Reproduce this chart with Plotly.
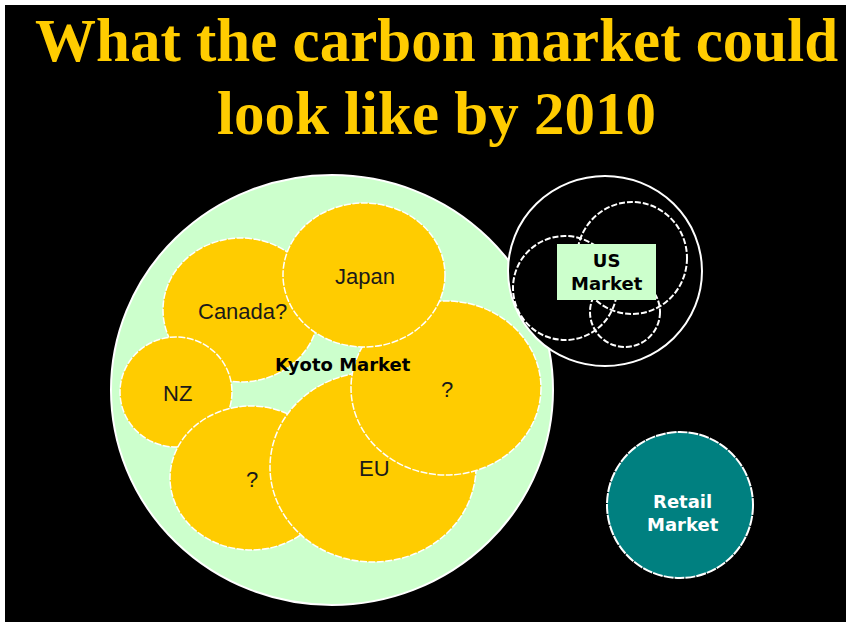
import plotly.graph_objects as go

# ---- data ----
title_lines = ["What the carbon market could", "look like by 2010"]

kyoto_names = ["Kyoto Market"]
kyoto_cx = [332]
kyoto_cy = [390]
kyoto_rx = [221]
kyoto_ry = [215]

# member markets, in drawing order
member_names = ["Canada?", "NZ", "?", "EU", "?", "Japan"]
member_cx = [241, 176, 251, 373, 446, 364]
member_cy = [310, 392, 478, 467, 388, 275]
member_rx = [78, 56, 81, 103, 95, 81]
member_ry = [72, 55, 72, 95, 87, 72]

us_cx = [605, 632, 565, 625]
us_cy = [271, 258, 288, 312]
us_rx = [97, 55, 52, 35]
us_ry = [95, 56, 52, 35]
us_label = "US<br>Market"
us_box = [557, 656, 244, 300]  # x0, x1, y0, y1

retail_cx = [680]
retail_cy = [505]
retail_r = [73]
retail_label = "Retail<br>Market"

# ---- styles ----
YELLOW = "#FFCC00"
MINT = "#CCFFCC"
TEAL = "#008080"

fig = go.Figure()
fig.add_trace(go.Scatter(x=[5, 846], y=[5, 622], mode="markers",
                         marker=dict(opacity=0), hoverinfo="skip", showlegend=False))

shapes = []
# Kyoto outer
for cx, cy, rx, ry in zip(kyoto_cx, kyoto_cy, kyoto_rx, kyoto_ry):
    shapes.append(dict(type="circle", xref="x", yref="y",
                       x0=cx - rx, x1=cx + rx, y0=cy - ry, y1=cy + ry,
                       fillcolor=MINT, line=dict(color="white", width=2)))
for cx, cy, rx, ry in zip(member_cx, member_cy, member_rx, member_ry):
    shapes.append(dict(type="circle", xref="x", yref="y",
                       x0=cx - rx, x1=cx + rx, y0=cy - ry, y1=cy + ry,
                       fillcolor=YELLOW, line=dict(color="white", width=1.5, dash="7px,1.5px")))
for i, (cx, cy, rx, ry) in enumerate(zip(us_cx, us_cy, us_rx, us_ry)):
    shapes.append(dict(type="circle", xref="x", yref="y",
                       x0=cx - rx, x1=cx + rx, y0=cy - ry, y1=cy + ry,
                       fillcolor="black" if i == 0 else "rgba(0,0,0,0)",
                       line=dict(color="white", width=2,
                                 dash="solid" if i == 0 else "6px,2px")))
shapes.append(dict(type="rect", xref="x", yref="y",
                   x0=us_box[0], x1=us_box[1], y0=us_box[2], y1=us_box[3],
                   fillcolor=MINT, line=dict(width=0)))
for cx, cy, r in zip(retail_cx, retail_cy, retail_r):
    shapes.append(dict(type="circle", xref="x", yref="y",
                       x0=cx - r, x1=cx + r, y0=cy - r, y1=cy + r,
                       fillcolor=TEAL, line=dict(color="white", width=2, dash="10px,1px")))

annotations = []
# title
title_y = [40, 113]
for t, y in zip(title_lines, title_y):
    annotations.append(dict(x=436, y=y, xref="x", yref="y", text="<b>%s</b>" % t,
                            showarrow=False, xanchor="center", yanchor="middle",
                            font=dict(family="Liberation Serif", size=61, color=YELLOW)))
for name, cx, cy in zip(member_names, member_cx, member_cy):
    annotations.append(dict(x=cx + 1, y=cy + 1, xref="x", yref="y", text=name,
                            showarrow=False, xanchor="center", yanchor="middle",
                            font=dict(family="Liberation Sans", size=22, color="#1a1a1a")))
annotations.append(dict(x=343, y=364, xref="x", yref="y", text="<b>%s</b>" % kyoto_names[0],
                        showarrow=False, xanchor="center", yanchor="middle",
                        font=dict(family="DejaVu Sans", size=18, color="black")))
annotations.append(dict(x=(us_box[0] + us_box[1]) / 2, y=(us_box[2] + us_box[3]) / 2,
                        xref="x", yref="y", text="<b>%s</b>" % us_label,
                        showarrow=False, xanchor="center", yanchor="middle",
                        font=dict(family="DejaVu Sans", size=18, color="black")))
annotations.append(dict(x=retail_cx[0] + 3, y=retail_cy[0] + 8, xref="x", yref="y",
                        text="<b>%s</b>" % retail_label,
                        showarrow=False, xanchor="center", yanchor="middle",
                        font=dict(family="DejaVu Sans", size=18, color="white")))

fig.update_layout(
    width=846, height=622,
    margin=dict(l=5, t=5, r=0, b=0, pad=0),
    paper_bgcolor="white", plot_bgcolor="black",
    xaxis=dict(range=[5, 846], visible=False, fixedrange=True),
    yaxis=dict(range=[622, 5], visible=False, fixedrange=True),
    shapes=shapes, annotations=annotations, showlegend=False,
)
fig.write_html("out.html", config={"displayModeBar": False})
